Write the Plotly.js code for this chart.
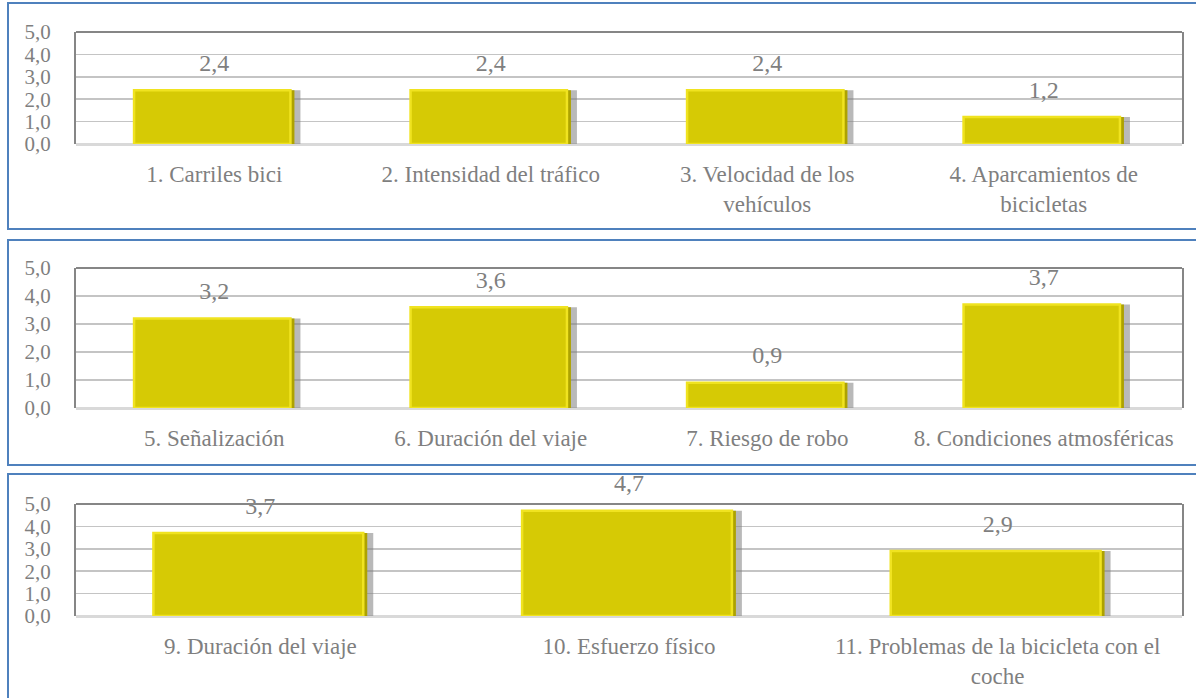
<!DOCTYPE html>
<html>
<head>
<meta charset="utf-8">
<script src="https://cdn.plot.ly/plotly-3.0.1.min.js"></script>
<style>
  html, body { margin: 0; padding: 0; background: #fff; }
  #plot { width: 1196px; height: 698px; }
</style>
</head>
<body>
<div id="plot"></div>
<script>
// data
var cats1 = ['1. Carriles bici', '2. Intensidad del tráfico', '3. Velocidad de los<br>vehículos', '4. Aparcamientos de<br>bicicletas'];
var vals1 = [2.4, 2.4, 2.4, 1.2];

var cats2 = ['5. Señalización', '6. Duración del viaje', '7. Riesgo de robo', '8. Condiciones atmosféricas'];
var vals2 = [3.2, 3.6, 0.9, 3.7];

var cats3 = ['9. Duración del viaje', '10. Esfuerzo físico', '11. Problemas de la bicicleta con el<br>coche'];
var vals3 = [3.7, 4.7, 2.9];

var yTicks = [0, 1, 2, 3, 4, 5];

var W = 1196, H = 698;
var font = 'Liberation Serif';
var grey = '#7f7f7f';
var barW = 0.58;
var plotLeft = 76, plotRight = 1182;

// pixel boxes of the three plot areas (top, bottom) and their frames
var panels = [
  {cats: cats1, vals: vals1, top: 32, bottom: 144, boxTop: 3, boxBottom: 229},
  {cats: cats2, vals: vals2, top: 268, bottom: 408, boxTop: 240, boxBottom: 465},
  {cats: cats3, vals: vals3, top: 504, bottom: 616, boxTop: 474, boxBottom: 720}
];

var data = [];
var layout = {
  width: W, height: H,
  margin: {l: 0, r: 0, t: 0, b: 0},
  paper_bgcolor: '#fff',
  plot_bgcolor: '#fff',
  separators: ',.',
  showlegend: false,
  barmode: 'overlay',
  font: {family: font, color: grey, size: 22},
  shapes: []
};

panels.forEach(function (p, i) {
  var n = i + 1;
  var sfx = n === 1 ? '' : String(n);
  var xa = 'x' + sfx, ya = 'y' + sfx;
  var pxPerCat = (plotRight - plotLeft) / p.cats.length;
  var shift = 6 / pxPerCat;
  var edge = 4 / pxPerCat;

  // shadow
  data.push({
    type: 'bar', x: p.cats, y: p.vals, xaxis: xa, yaxis: ya,
    width: barW, offset: -barW / 2 + shift,
    marker: {color: 'rgba(128,128,128,0.55)', line: {width: 0}},
    hoverinfo: 'skip'
  });
  // darker right bevel
  data.push({
    type: 'bar', x: p.cats, y: p.vals, xaxis: xa, yaxis: ya,
    width: barW,
    marker: {color: '#ADA200', line: {width: 0}},
    hoverinfo: 'skip'
  });
  // bar face
  data.push({
    type: 'bar', x: p.cats, y: p.vals, xaxis: xa, yaxis: ya,
    width: barW - edge, offset: -barW / 2,
    marker: {color: '#D6CA05', line: {color: '#F0E320', width: 2.5}},
    hoverinfo: 'skip'
  });
  // value labels
  data.push({
    type: 'scatter', mode: 'markers+text', x: p.cats, y: p.vals, xaxis: xa, yaxis: ya,
    marker: {size: 20, opacity: 0},
    texttemplate: '%{y:.1f}',
    textposition: 'top center',
    textfont: {family: font, size: 24, color: grey},
    cliponaxis: false,
    hoverinfo: 'skip'
  });

  layout['xaxis' + sfx] = {
    domain: [plotLeft / W, plotRight / W],
    anchor: ya,
    type: 'category',
    range: [-0.5, p.cats.length - 0.5],
    showgrid: false, zeroline: false, showline: false,
    ticks: '', ticklabelstandoff: 14,
    tickfont: {family: font, size: 23, color: grey},
    fixedrange: true
  };
  layout['yaxis' + sfx] = {
    domain: [(H - p.bottom) / H, (H - p.top) / H],
    anchor: xa,
    range: [0, 5],
    tickvals: yTicks,
    tickformat: '.1f',
    showgrid: true, gridcolor: '#C4C4C4', gridwidth: 1.5,
    zeroline: true, zerolinecolor: '#D9D9D9', zerolinewidth: 3,
    showline: true, mirror: true, linecolor: '#868686', linewidth: 2,
    ticks: '', ticklabelstandoff: 19,
    tickfont: {family: font, size: 21, color: grey},
    fixedrange: true
  };

  // top edge of plot area
  layout.shapes.push({
    type: 'line', xref: xa + ' domain', yref: ya + ' domain',
    x0: 0, x1: 1, y0: 1, y1: 1,
    line: {color: '#868686', width: 2}
  });
  // panel frame
  layout.shapes.push({
    type: 'rect', xref: 'paper', yref: 'paper',
    x0: 8 / W, x1: 1.05, y0: (H - p.boxBottom) / H, y1: (H - p.boxTop) / H,
    line: {color: '#4F81BD', width: 2}
  });
});

Plotly.newPlot('plot', data, layout, {displayModeBar: false, staticPlot: true});
</script>
</body>
</html>
